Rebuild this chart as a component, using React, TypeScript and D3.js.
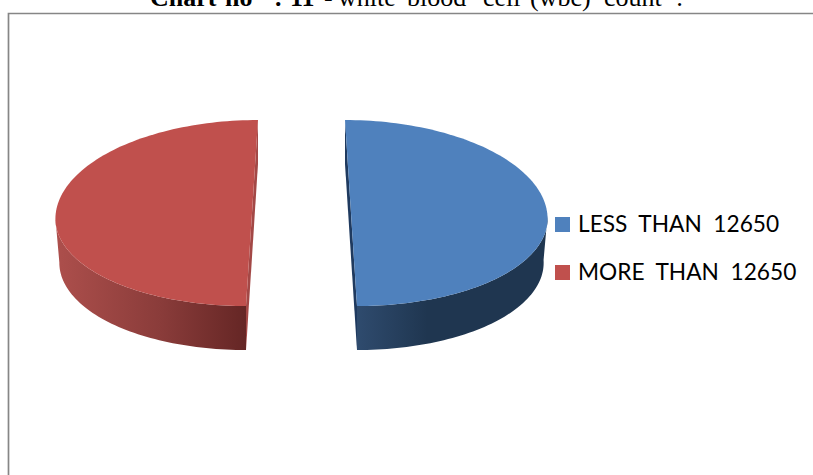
import React from "react";
import * as d3 from "d3";

const categories = ["LESS  THAN  12650", "MORE  THAN  12650"];
const values = [50, 50];
const topColors = ["#4f81bd", "#c0504d"];
const faceColors = ["#1f3a5f", "#a34846"];
const wallStops = [
  [[0, "#2f4b6e"], [0.37, "#1f3650"], [1, "#1f3650"]],
  [[0, "#ad4f4c"], [0.55, "#8a3c3a"], [1, "#652625"]],
];

const W = 813;
const H = 475;
const CX = 301.5;
const CY = 216;
const RX = 196.5;
const RY_FAR = 96;
const RY_NEAR = 90;
const EXPLODE = 49.5;
const DEPTH = 44;
const K_OFFSET = 0.121;
const LOWER_SCALE = 0.98;

const pie = d3.pie<number>().sort(null).startAngle(0).endAngle(2 * Math.PI);
const line = d3.line<[number, number]>();

// Tilted-disc projection: angle 0 is the far edge, growing clockwise.
// The far half of the disc is stretched a little more than the near half.
function project(angle: number, side: number, lower: boolean): [number, number] {
  const v = -Math.cos(angle);
  const u = Math.sin(angle) * RX * (lower ? LOWER_SCALE : 1);
  const x = CX + side * EXPLODE * (1 + K_OFFSET * v) + u;
  const y = CY + (v < 0 ? RY_FAR : RY_NEAR) * v + (lower ? DEPTH : 0);
  return [x, y];
}

function arcPoints(a0: number, a1: number, side: number, lower: boolean) {
  return d3.range(121).map((i) => project(a0 + ((a1 - a0) * i) / 120, side, lower));
}

export default function App() {
  const slices = pie(values);
  return (
    <svg width={W} height={H} style={{ position: "absolute", left: 0, top: 0, display: "block" }}>
      <defs>
        {wallStops.map((stops, i) => (
          <linearGradient key={i} id={`wall-${i}`} x1="0" x2="1" y1="0" y2="0">
            {stops.map(([o, c], j) => (
              <stop key={j} offset={o as number} stopColor={c as string} />
            ))}
          </linearGradient>
        ))}
      </defs>
      <rect width={W} height={H} fill="#fff" />
      <path d={`M8.5 ${H}V13.5H${W}`} fill="none" stroke="#868686" strokeWidth={1.7} />
      <text y={6} fontFamily="Liberation Serif" fontSize={26} fill="#000">
        <tspan fontWeight="bold">
          <tspan x={150}>Chart</tspan>
          <tspan x={225}>no</tspan>
          <tspan x={274}>:</tspan>
          <tspan x={290}>11</tspan>
        </tspan>
        <tspan x={324}>-</tspan>
        <tspan x={338}>white</tspan>
        <tspan x={407}>blood</tspan>
        <tspan x={483}>cell</tspan>
        <tspan x={530}>(wbc)</tspan>
        <tspan x={604}>count</tspan>
        <tspan x={676}>:</tspan>
      </text>
      {slices.map((s, i) => {
        const side = Math.sin((s.startAngle + s.endAngle) / 2) > 0 ? 1 : -1;
        const top = arcPoints(s.startAngle, s.endAngle, side, false);
        const low = arcPoints(s.startAngle, s.endAngle, side, true);
        // Only the near half of the rim is visible below the top surface.
        const nearTop = top.filter((p) => p[1] >= CY);
        const nearLow = low.filter((p) => p[1] >= CY + DEPTH);
        const face = [top[0], top[120], low[120], low[0]] as [number, number][];
        return (
          <g key={categories[i]}>
            <path d={line(face)! + "Z"} fill={faceColors[i]} />
            <path d={line([...nearTop, ...nearLow.slice().reverse()])! + "Z"} fill={`url(#wall-${i})`} />
            <path d={line(top)! + "Z"} fill={topColors[i]} />
          </g>
        );
      })}
      {categories.map((c, i) => (
        <g key={c}>
          <rect x={555} y={217 + i * 48} width={15} height={15} fill={topColors[i]} />
          <text x={578} y={232 + i * 48} fontFamily="Lato" fontSize={22.7} fill="#000" style={{ whiteSpace: "pre" }}>
            {c}
          </text>
        </g>
      ))}
    </svg>
  );
}
